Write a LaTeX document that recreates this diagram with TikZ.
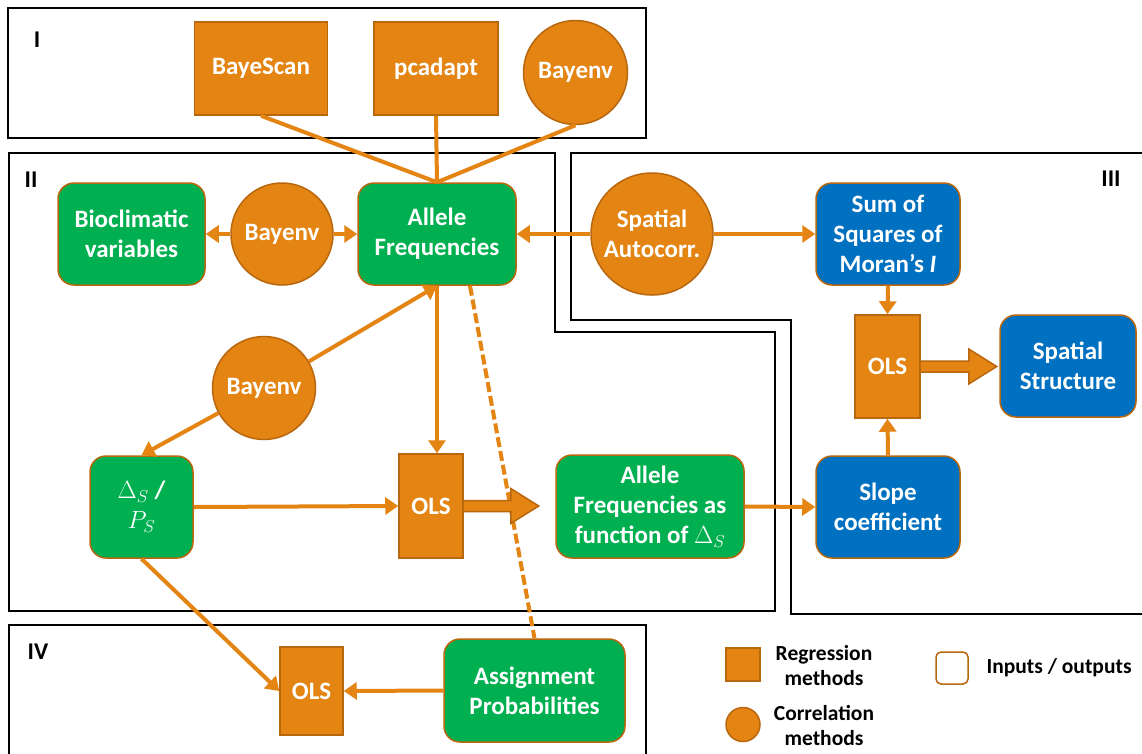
\documentclass[tikz,border=0pt]{standalone}
\usepackage{fontspec}
\setmainfont{Carlito}
\usetikzlibrary{arrows.meta,calc}
\definecolor{org}{HTML}{E38413}
\definecolor{orgd}{HTML}{B8670F}
\definecolor{grn}{HTML}{00B050}
\definecolor{blu}{HTML}{0070C0}
\begin{document}
\begin{tikzpicture}[x=1pt,y=-1pt,
  every node/.style={font=\bfseries\fontsize{25}{30}\selectfont, text=white, align=center, inner sep=0pt},
  meth/.style={draw=orgd, fill=org, line width=1.5pt},
  corr/.style={meth, circle},
  io/.style={draw=orgd, line width=1.5pt, rounded corners=16pt},
  greenbox/.style={io, fill=grn},
  bluebox/.style={io, fill=blu},
  conn/.style={draw=org, line width=4pt},
  arr/.style={conn, -{Triangle[length=13pt,width=17pt]}},
  region/.style={draw=black, line width=2.5pt},
  reglabel/.style={text=black, font=\bfseries\fontsize{24}{28}\selectfont},
  legend/.style={text=black, font=\bfseries\fontsize{21.5}{25}\selectfont},
  blockarrow/.style={fill=org, draw=orgd, line width=1.5pt, line join=miter}
]
\useasboundingbox (0,0) rectangle (1142,753);
\fill[white] (0,0) rectangle (1142,753);
\clip (0,0) rectangle (1142,753);

% regions
\draw[region] (8,8) rectangle (646,138);
\draw[region] (555,332) -- (555,153) -- (9,153) -- (9,611) -- (775,611) -- (775,332) -- cycle;
\draw[region] (1160,153) -- (571,153) -- (571,320) -- (791,320) -- (791,614) -- (1160,614);
\draw[region] (9,770) -- (9,625) -- (646,625) -- (646,770);
\node[reglabel] (lI) at (37,40) {I};
\node[reglabel] (lII) at (31,180) {II};
\node[reglabel] (lIII) at (1111,179) {III};
\node[reglabel] (lIV) at (38,652) {IV};

% nodes
\node[meth, minimum width=133, minimum height=93] (bs) at (261,68.5) {BayeScan};
\node[meth, minimum width=124, minimum height=93] (pca) at (436,68.5) {pcadapt};
\node[corr, minimum size=104] (bay1) at (575.5,72.5) {Bayenv};
\node[greenbox, minimum width=147, minimum height=102] (bio) at (131.5,234) {Bioclimatic\\variables};
\node[corr, minimum size=102] (bay2) at (282,234) {Bayenv};
\node[greenbox, minimum width=158, minimum height=102] (af) at (437,234) {Allele\\Frequencies};
\node[corr, minimum size=122] (sa) at (652,234) {Spatial\\Autocorr.};
\node[bluebox, minimum width=144, minimum height=102] (ss) at (888,234) {Sum of\\Squares of\\Moran’s \textit{I}};
\node[meth, minimum width=65, minimum height=103] (ols3) at (887.5,366.5) {OLS};
\node[bluebox, minimum width=136, minimum height=102] (st) at (1068,366) {Spatial\\Structure};
\node[bluebox, minimum width=144, minimum height=102] (sl) at (888,507) {Slope\\coefficient};
\node[corr, minimum size=103] (bay3) at (264,388) {Bayenv};
\node[greenbox, minimum width=103, minimum height=102] (ds) at (141.5,507) {$\Delta_S$ /\\$P_S$};
\node[meth, minimum width=64, minimum height=104] (ols2) at (431,506) {OLS};
\node[greenbox, minimum width=188, minimum height=103] (aff) at (650,506.5) {Allele\\Frequencies as\\function of $\Delta_S$};
\node[meth, minimum width=63, minimum height=88] (ols4) at (311.5,691) {OLS};
\node[greenbox, minimum width=181, minimum height=103] (ap) at (534.5,690.5) {Assignment\\Probabilities};

% connectors
\draw[conn] (bs.south) -- (af.north);
\draw[conn] (pca.south) -- (af.north);
\draw[conn] (bay1.south) -- (af.north);
\draw[arr] (bay2.west) -- (bio.east);
\draw[arr] (bay2.east) -- (af.west);
\draw[arr] (sa.west) -- (af.east);
\draw[arr] (sa.east) -- (ss.west);
\draw[arr] (ss.south) -- (ols3.north);
\draw[arr] (sl.north) -- (ols3.south);
\draw[arr] (af.south) -- (af.south |- ols2.north);
\draw[arr] (bay3) -- (af.south);
\draw[arr] (bay3) -- (ds.north);
\draw[arr] (ds.east) -- (ols2.west);
\draw[arr] (aff.east) -- (sl.west);
\draw[arr] (ds.south) -- (ols4.west);
\draw[arr] (ap.west) -- (ols4.east);
\draw[conn, dash pattern=on 10pt off 4pt] ($(af.south)+(33,0)$) -- (ap.north);

% block arrows
\filldraw[blockarrow] ($(ols2.east)+(0,-5.5)$) -- ++(47,0) -- ++(0,-12) -- ($(ols2.east)+(75,0)$)
  -- ($(ols2.east)+(47,17.5)$) -- ++(0,-12) -- ($(ols2.east)+(0,5.5)$);
\filldraw[blockarrow] ($(ols3.east)+(0,-5.5)$) -- ++(48,0) -- ++(0,-12) -- ($(ols3.east)+(76,0)$)
  -- ($(ols3.east)+(48,17.5)$) -- ++(0,-12) -- ($(ols3.east)+(0,5.5)$);

% legend
\node[meth, minimum width=34, minimum height=33] (lr) at (743,664.5) {};
\node[legend] (lrt) at (824,666) {Regression\\methods};
\node[corr, minimum size=34] (lc) at (743,724.5) {};
\node[legend] (lct) at (824,726) {Correlation\\methods};
\node[io, rounded corners=5pt, minimum width=32, minimum height=32] (lio) at (952,668) {};
\node[legend] (liot) at (1059,668) {Inputs / outputs};
\end{tikzpicture}
\end{document}
